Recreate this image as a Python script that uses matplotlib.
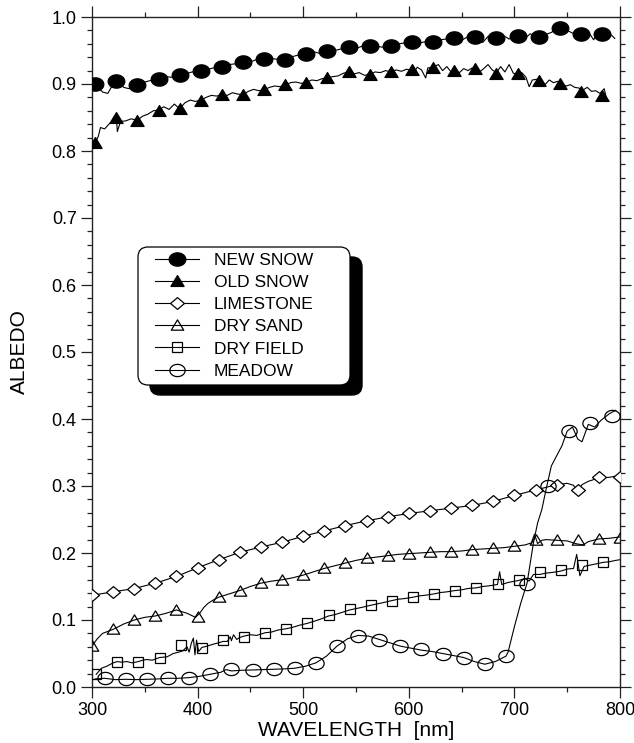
import numpy as np
import matplotlib
matplotlib.use('Agg')
import matplotlib.pyplot as plt
from matplotlib.path import Path
from matplotlib.patches import FancyBboxPatch
from matplotlib.transforms import IdentityTransform
from matplotlib.legend_handler import HandlerTuple
from matplotlib.ticker import MultipleLocator, FormatStrFormatter

plt.rcParams['font.family'] = ['Liberation Sans', 'DejaVu Sans']

# ---------------- data ----------------
series_labels = ['NEW SNOW', 'OLD SNOW', 'LIMESTONE', 'DRY SAND', 'DRY FIELD', 'MEADOW']

# NEW SNOW
new_snow_line_wl = [300, 305, 310, 315, 320, 325, 330, 335, 340, 345, 350, 355, 360, 365, 370, 375,
                    380, 385, 390, 395, 400, 405, 410, 415, 420, 425, 430, 435, 440, 445, 450, 455,
                    460, 465, 470, 475, 480, 485, 490, 495, 500, 505, 510, 515, 520, 525, 530, 535,
                    540, 545, 550, 555, 560, 565, 570, 575, 580, 585, 590, 595, 600, 605, 610, 615,
                    620, 625, 630, 635, 640, 645, 650, 655, 660, 665, 670, 675, 680, 685, 690, 695,
                    700, 705, 710, 715, 720, 725, 730, 735, 740, 745, 750, 755, 760, 765, 770, 775,
                    780, 785, 790, 795]
new_snow_line = [0.902, 0.896, 0.888, 0.886, 0.900, 0.903, 0.895, 0.893, 0.897, 0.900, 0.903, 0.905,
                 0.907, 0.906, 0.911, 0.910, 0.913, 0.915, 0.916, 0.918, 0.919, 0.921, 0.922, 0.924,
                 0.926, 0.927, 0.929, 0.930, 0.932, 0.934, 0.933, 0.936, 0.937, 0.936, 0.938, 0.937,
                 0.936, 0.938, 0.941, 0.943, 0.945, 0.944, 0.948, 0.946, 0.949, 0.951, 0.950, 0.952,
                 0.954, 0.955, 0.953, 0.956, 0.957, 0.958, 0.956, 0.955, 0.957, 0.958, 0.960, 0.961,
                 0.963, 0.962, 0.961, 0.963, 0.963, 0.964, 0.966, 0.967, 0.969, 0.968, 0.965, 0.970,
                 0.971, 0.969, 0.962, 0.971, 0.966, 0.969, 0.972, 0.967, 0.974, 0.970, 0.968, 0.975,
                 0.971, 0.969, 0.974, 0.977, 0.982, 0.984, 0.980, 0.976, 0.973, 0.972, 0.978, 0.966,
                 0.979, 0.970, 0.976, 0.968]
new_snow_mk_wl = [303, 323, 343, 363, 383, 403, 423, 443, 463, 483, 503, 523, 543, 563, 583, 603,
                  623, 643, 663, 683, 703, 723, 743, 763, 783]
new_snow_mk = [0.900, 0.905, 0.898, 0.908, 0.914, 0.920, 0.926, 0.933, 0.937, 0.936, 0.945, 0.950,
               0.955, 0.957, 0.957, 0.963, 0.963, 0.969, 0.970, 0.968, 0.971, 0.970, 0.983, 0.974,
               0.974]

# OLD SNOW
old_snow_line_wl = [303, 306, 308, 312, 316, 320, 323, 324, 327, 332, 337, 343, 348, 353, 358, 363,
                    368, 373, 378, 383, 388, 393, 398, 403, 408, 413, 418, 423, 428, 433, 438, 443,
                    448, 453, 458, 463, 468, 473, 478, 483, 488, 493, 498, 503, 508, 513, 518, 523,
                    528, 533, 538, 543, 548, 553, 558, 563, 568, 573, 578, 583, 588, 593, 598, 601,
                    603, 606, 608, 612, 616, 618, 623, 628, 632, 636, 640, 643, 648, 652, 656, 660,
                    663, 667, 671, 675, 679, 683, 687, 691, 695, 699, 703, 707, 711, 714, 717, 721,
                    725, 729, 733, 737, 741, 745, 749, 753, 757, 761, 765, 769, 773, 777, 781, 785,
                    787]
old_snow_line = [0.812, 0.822, 0.835, 0.833, 0.840, 0.846, 0.852, 0.829, 0.844, 0.845, 0.848, 0.846,
                 0.852, 0.855, 0.860, 0.861, 0.866, 0.862, 0.870, 0.863, 0.872, 0.876, 0.874, 0.876,
                 0.880, 0.883, 0.882, 0.884, 0.883, 0.887, 0.885, 0.884, 0.889, 0.892, 0.890, 0.891,
                 0.895, 0.897, 0.896, 0.898, 0.902, 0.903, 0.901, 0.902, 0.906, 0.905, 0.908, 0.909,
                 0.911, 0.912, 0.916, 0.918, 0.915, 0.917, 0.913, 0.914, 0.918, 0.917, 0.920, 0.918,
                 0.921, 0.919, 0.922, 0.921, 0.923, 0.920, 0.925, 0.921, 0.909, 0.924, 0.925, 0.929,
                 0.920, 0.926, 0.918, 0.921, 0.917, 0.923, 0.920, 0.924, 0.922, 0.918, 0.923, 0.929,
                 0.921, 0.917, 0.926, 0.918, 0.929, 0.916, 0.915, 0.917, 0.910, 0.896, 0.906, 0.907,
                 0.904, 0.899, 0.906, 0.902, 0.904, 0.899, 0.897, 0.899, 0.895, 0.894, 0.891, 0.895,
                 0.889, 0.890, 0.886, 0.893, 0.880]
old_snow_mk_wl = [303, 323, 343, 363, 383, 403, 423, 443, 463, 483, 503, 523, 543, 563, 583, 603,
                  623, 643, 663, 683, 703, 723, 743, 763, 783]
old_snow_mk = [0.812, 0.849, 0.845, 0.860, 0.862, 0.875, 0.883, 0.884, 0.891, 0.898, 0.902, 0.909,
               0.918, 0.914, 0.918, 0.921, 0.924, 0.919, 0.922, 0.915, 0.915, 0.905, 0.900, 0.888,
               0.882]

# LIMESTONE
limestone_line_wl = [300, 320, 340, 360, 380, 400, 420, 440, 460, 480, 500, 520, 540, 560, 580,
                     600, 620, 640, 660, 680, 700, 720, 740, 750, 756, 760, 764, 770, 780, 790, 800]
limestone_line = [0.137, 0.142, 0.147, 0.155, 0.165, 0.178, 0.190, 0.201, 0.209, 0.216, 0.225,
                  0.233, 0.241, 0.248, 0.254, 0.259, 0.263, 0.267, 0.271, 0.277, 0.286, 0.294,
                  0.302, 0.304, 0.301, 0.291, 0.302, 0.307, 0.312, 0.313, 0.316]
limestone_mk_wl = [300, 320, 340, 360, 380, 400, 420, 440, 460, 480, 500, 520, 540, 560, 580, 600,
                   620, 640, 660, 680, 700, 720, 740, 760, 780, 800]
limestone_mk = [0.137, 0.142, 0.147, 0.155, 0.165, 0.178, 0.190, 0.201, 0.209, 0.216, 0.225, 0.233,
                0.241, 0.248, 0.254, 0.259, 0.263, 0.267, 0.271, 0.277, 0.286, 0.294, 0.302, 0.294,
                0.313, 0.314]

# DRY SAND
dry_sand_line_wl = [300, 305, 310, 320, 330, 340, 350, 360, 370, 380, 390, 398, 402, 406, 410, 415,
                    420, 430, 440, 450, 460, 470, 480, 490, 500, 510, 520, 530, 540, 550, 560, 570,
                    580, 590, 600, 610, 620, 630, 640, 650, 660, 670, 680, 690, 700, 710, 716, 719,
                    722, 726, 730, 740, 750, 758, 765, 770, 780, 790, 800]
dry_sand_line = [0.061, 0.072, 0.080, 0.086, 0.094, 0.100, 0.104, 0.106, 0.110, 0.115, 0.110, 0.104,
                 0.110, 0.119, 0.125, 0.130, 0.134, 0.139, 0.144, 0.150, 0.155, 0.158, 0.160, 0.163,
                 0.167, 0.172, 0.177, 0.181, 0.185, 0.189, 0.192, 0.194, 0.196, 0.198, 0.199, 0.200,
                 0.201, 0.202, 0.202, 0.203, 0.205, 0.206, 0.207, 0.208, 0.210, 0.212, 0.215, 0.228,
                 0.214, 0.219, 0.220, 0.219, 0.218, 0.214, 0.212, 0.217, 0.221, 0.222, 0.224]
dry_sand_mk_wl = [300, 320, 340, 360, 380, 400, 420, 440, 460, 480, 500, 520, 540, 560, 580, 600,
                  620, 640, 660, 680, 700, 720, 740, 760, 780, 800]
dry_sand_mk = [0.061, 0.086, 0.100, 0.106, 0.115, 0.105, 0.134, 0.144, 0.155, 0.160, 0.167, 0.177,
               0.185, 0.192, 0.196, 0.199, 0.201, 0.202, 0.205, 0.207, 0.210, 0.219, 0.219, 0.219,
               0.221, 0.222]

# DRY FIELD
dry_field_line_wl = [304, 309, 314, 320, 324, 328, 333, 338, 344, 348, 352, 357, 364, 371, 377, 382,
                     386, 390, 392, 394, 396, 397.5, 399, 401, 404, 409, 415, 420, 424, 428, 431,
                     432, 434, 437, 440, 444, 450, 456, 464, 470, 476, 484, 490, 496, 504, 510, 516,
                     524, 530, 536, 544, 550, 556, 564, 570, 576, 584, 590, 596, 604, 610, 616, 624,
                     630, 636, 644, 650, 656, 664, 670, 676, 684, 686, 688, 694, 704, 710, 714, 718,
                     724, 730, 736, 744, 750, 756, 759, 762, 766, 772, 778, 784, 790, 796, 800]
dry_field_line = [0.019, 0.028, 0.031, 0.036, 0.038, 0.037, 0.038, 0.036, 0.038, 0.040, 0.041, 0.040,
                  0.044, 0.045, 0.050, 0.052, 0.054, 0.060, 0.052, 0.065, 0.073, 0.048, 0.070, 0.053,
                  0.059, 0.061, 0.064, 0.066, 0.068, 0.068, 0.075, 0.069, 0.078, 0.071, 0.074, 0.076,
                  0.078, 0.077, 0.081, 0.082, 0.085, 0.087, 0.089, 0.092, 0.095, 0.098, 0.101, 0.106,
                  0.108, 0.111, 0.115, 0.117, 0.119, 0.122, 0.124, 0.126, 0.129, 0.131, 0.132, 0.134,
                  0.136, 0.137, 0.139, 0.141, 0.142, 0.144, 0.145, 0.147, 0.148, 0.150, 0.151, 0.153,
                  0.172, 0.153, 0.156, 0.159, 0.162, 0.158, 0.168, 0.168, 0.170, 0.171, 0.173, 0.176,
                  0.177, 0.198, 0.166, 0.180, 0.182, 0.184, 0.186, 0.187, 0.189, 0.190]
dry_field_mk_wl = [304, 324, 344, 364, 384, 404, 424, 444, 464, 484, 504, 524, 544, 564, 584, 604,
                   624, 644, 664, 684, 704, 724, 744, 764, 784]
dry_field_mk = [0.019, 0.038, 0.037, 0.043, 0.063, 0.058, 0.070, 0.075, 0.080, 0.087, 0.095, 0.107,
                0.116, 0.123, 0.129, 0.134, 0.139, 0.144, 0.148, 0.154, 0.160, 0.172, 0.174, 0.182,
                0.186]

# MEADOW
meadow_line_wl = [303, 312, 322, 332, 342, 352, 362, 372, 382, 392, 402, 412, 422, 427, 432, 442,
                  452, 462, 472, 482, 492, 502, 512, 522, 532, 542, 552, 562, 572, 582, 592, 602,
                  612, 622, 632, 642, 652, 662, 672, 682, 692, 694, 700, 706, 712, 718, 722, 726,
                  730, 735, 740, 745, 750, 755, 760, 764, 770, 776, 782, 790, 796]
meadow_line = [0.012, 0.013, 0.011, 0.0115, 0.011, 0.0115, 0.012, 0.013, 0.013, 0.014, 0.016, 0.019,
               0.022, 0.026, 0.024, 0.025, 0.0254, 0.026, 0.0265, 0.027, 0.028, 0.031, 0.036, 0.046,
               0.061, 0.072, 0.077, 0.076, 0.071, 0.066, 0.061, 0.058, 0.055, 0.053, 0.050, 0.047,
               0.044, 0.038, 0.034, 0.038, 0.046, 0.052, 0.090, 0.125, 0.155, 0.215, 0.245, 0.265,
               0.295, 0.330, 0.345, 0.360, 0.382, 0.388, 0.370, 0.366, 0.392, 0.388, 0.398, 0.408,
               0.413]
meadow_mk_wl = [312, 332, 352, 372, 392, 412, 432, 452, 472, 492, 512, 532, 552, 572, 592, 612,
                632, 652, 672, 692, 712, 732, 752, 772, 792]
meadow_mk = [0.013, 0.0115, 0.0115, 0.013, 0.014, 0.019, 0.0265, 0.0254, 0.0265, 0.028, 0.036, 0.061,
             0.076, 0.070, 0.061, 0.056, 0.050, 0.044, 0.034, 0.046, 0.1535, 0.300, 0.382, 0.394,
             0.405]

x_ticks = [300, 400, 500, 600, 700, 800]
y_ticks = [0.0, 0.1, 0.2, 0.3, 0.4, 0.5, 0.6, 0.7, 0.8, 0.9, 1.0]

# ---------------- marker shapes ----------------
_t = np.linspace(0, 2 * np.pi, 64)
ellipse = Path(np.column_stack([np.cos(_t), 0.8 * np.sin(_t)]), closed=True)
tri = Path([(0, 0.9), (-1, -0.75), (1, -0.75), (0, 0.9)], closed=True)
diamond = Path([(0, 0.85), (1, 0), (0, -0.85), (-1, 0), (0, 0.85)], closed=True)

# ---------------- figure ----------------
fig = plt.figure(figsize=(6.34, 7.43), dpi=100)
ax = fig.add_axes([92 / 634, 1 - 687 / 743, 528 / 634, 670 / 743])

lw = 0.8
mew = 0.9
specs = [
    (new_snow_line_wl, new_snow_line, new_snow_mk_wl, new_snow_mk,
     dict(marker=ellipse, markersize=12, markerfacecolor='black', markeredgecolor='black')),
    (old_snow_line_wl, old_snow_line, old_snow_mk_wl, old_snow_mk,
     dict(marker=tri, markersize=9.5, markerfacecolor='black', markeredgecolor='black')),
    (limestone_line_wl, limestone_line, limestone_mk_wl, limestone_mk,
     dict(marker=diamond, markersize=10, markerfacecolor='white', markeredgecolor='black')),
    (dry_sand_line_wl, dry_sand_line, dry_sand_mk_wl, dry_sand_mk,
     dict(marker=tri, markersize=9, markerfacecolor='none', markeredgecolor='black')),
    (dry_field_line_wl, dry_field_line, dry_field_mk_wl, dry_field_mk,
     dict(marker='s', markersize=7, markerfacecolor='none', markeredgecolor='black')),
    (meadow_line_wl, meadow_line, meadow_mk_wl, meadow_mk,
     dict(marker=ellipse, markersize=11, markerfacecolor='none', markeredgecolor='black')),
]

handles = []
for lx, ly, mx, my, mk in specs:
    ln, = ax.plot(lx, ly, color='black', lw=lw, zorder=2)
    mks, = ax.plot(mx, my, linestyle='none', markeredgewidth=mew, zorder=3, **mk)
    handles.append((ln, mks))

ax.set_xlim(300, 800)
ax.set_ylim(0, 1.0)
ax.set_xticks(x_ticks)
ax.set_yticks(y_ticks)
ax.xaxis.set_minor_locator(MultipleLocator(50))
ax.yaxis.set_minor_locator(MultipleLocator(0.02))
ax.yaxis.set_major_formatter(FormatStrFormatter('%.1f'))
ax.tick_params(which='both', direction='out', top=True, right=True,
               labeltop=False, labelright=False, color='#222222', width=0.9,
               labelsize=13, pad=3)
ax.tick_params(which='major', length=8)
ax.tick_params(which='minor', length=3.5)
for s in ax.spines.values():
    s.set_color('#222222')
    s.set_linewidth(1.0)

ax.set_xlabel('WAVELENGTH  [nm]', fontsize=15, labelpad=1)
ax.set_ylabel('ALBEDO', fontsize=15, labelpad=16)

# legend contents (frame drawn separately so the box can be wider than its contents)
fig_h = 743
def px_to_axes(xp, yp):
    inv = ax.transAxes.inverted()
    return inv.transform((xp, fig_h - yp))

anchor = px_to_axes(155, 253)
leg = ax.legend(handles, series_labels, handler_map={tuple: HandlerTuple(ndivide=1)},
                loc='upper left', bbox_to_anchor=tuple(anchor), borderaxespad=0,
                fontsize=12.5, frameon=False, handlelength=2.55, handletextpad=0.85,
                labelspacing=0.4, borderpad=0, numpoints=1)
leg.set_zorder(10)

# legend frame + offset black shadow (display pixels)
bx0, bx1 = 138, 350
by_top, by_bot = 247, 385
w = bx1 - bx0
h = by_bot - by_top
shadow = FancyBboxPatch((bx0 + 12, fig_h - by_bot - 10), w, h,
                        boxstyle='round,pad=0,rounding_size=10',
                        transform=IdentityTransform(), facecolor='black',
                        edgecolor='black', zorder=8)
frame = FancyBboxPatch((bx0, fig_h - by_bot), w, h,
                       boxstyle='round,pad=0,rounding_size=10',
                       transform=IdentityTransform(), facecolor='white',
                       edgecolor='black', linewidth=0.9, zorder=9)
ax.add_patch(shadow)
ax.add_patch(frame)

fig.savefig('out.png', dpi=100)
